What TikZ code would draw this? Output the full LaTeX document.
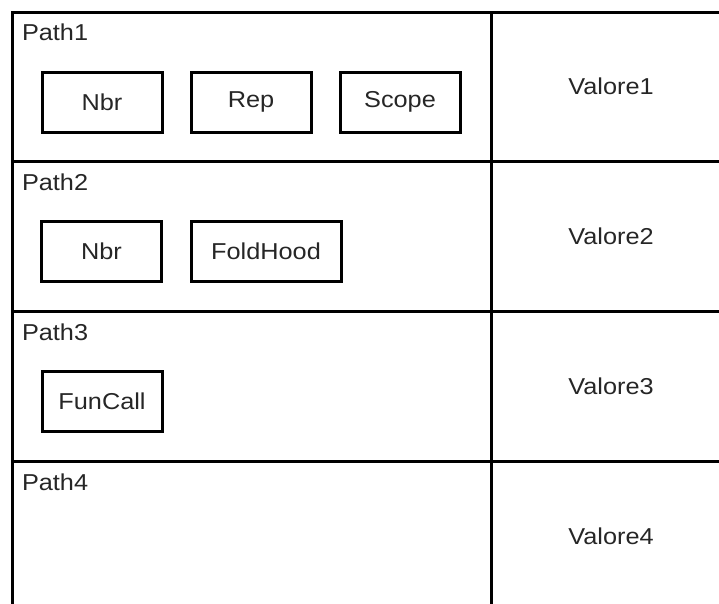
\documentclass[tikz,border=0pt]{standalone}
\usepackage{fontspec}
\setmainfont{Liberation Sans}[FakeStretch=1.1]
\begin{document}
\begin{tikzpicture}[x=1pt,y=-1pt,
  line width=3pt,
  lbl/.style={font=\fontsize{23}{27}\selectfont, color=black!85, inner sep=0pt},
  opbox/.style={draw, line width=3pt, minimum height=60pt, inner sep=0pt, font=\fontsize{23}{27}\selectfont, text=black!85},
  cellline/.style={line width=3pt}]
\useasboundingbox (0,0) rectangle (719,603);
\begin{scope}
\clip (0,0) rectangle (719,603);
\draw[cellline] (12,12) rectangle (731,611);
\draw[cellline] (491,12) -- (491,611);
\draw[cellline] (12,161) -- (731,161);
\draw[cellline] (12,311) -- (731,311);
\draw[cellline] (12,461) -- (731,461);
\end{scope}
% path labels
\node[lbl, anchor=base west] (p1) at (20.5,40) {Path1};
\node[lbl, anchor=base west] (p2) at (20.5,190) {Path2};
\node[lbl, anchor=base west] (p3) at (20.5,340) {Path3};
\node[lbl, anchor=base west] (p4) at (20.5,490) {Path4};
% values
\node[lbl] (v1) at (611,86) {Valore1};
\node[lbl] (v2) at (611,236) {Valore2};
\node[lbl] (v3) at (611,386) {Valore3};
\node[lbl] (v4) at (611,536) {Valore4};
% boxes row 1
\node[opbox, minimum width=120pt] (nbr1) at (102,102) {Nbr};
\node[opbox, minimum width=120pt] (rep1) at (251,102) {Rep};
\node[opbox, minimum width=120pt] (scope1) at (400,102) {Scope};
% row 2
\node[opbox, minimum width=120pt] (nbr2) at (101.5,251.5) {Nbr};
\node[opbox, minimum width=150pt] (fold2) at (266,251.5) {FoldHood};
% row 3
\node[opbox, minimum width=120pt] (fun3) at (102,401.5) {FunCall};
\end{tikzpicture}
\end{document}
